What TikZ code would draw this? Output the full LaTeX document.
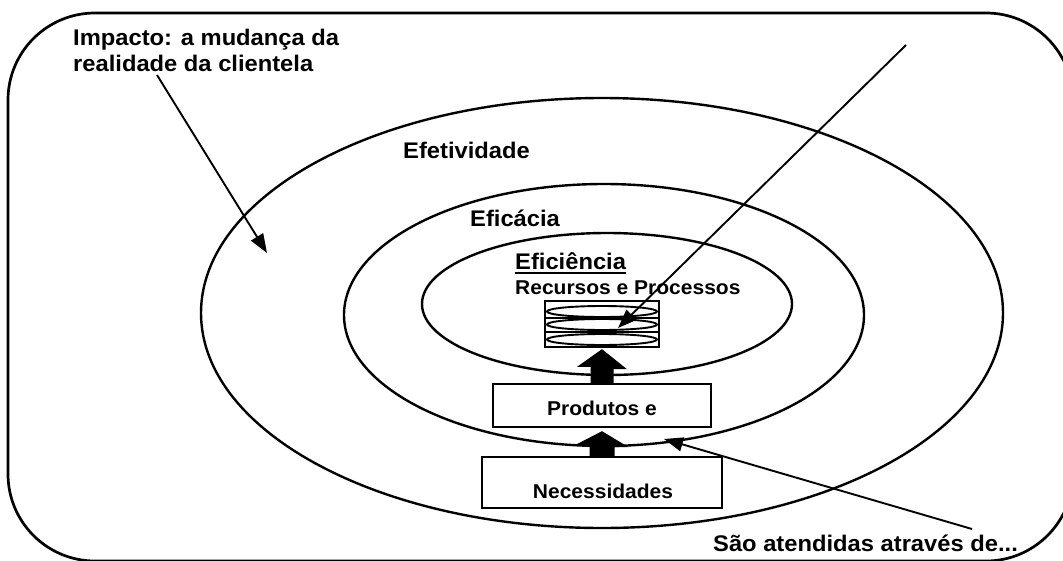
\documentclass[tikz,border=0pt]{standalone}
\usepackage{fontspec}
\setmainfont[FakeStretch=1.05]{Liberation Sans}
\usetikzlibrary{shapes.geometric,arrows.meta,calc}
\begin{document}
\begin{tikzpicture}[x=1pt,y=-1pt,
  lbl/.style={font=\bfseries\fontsize{22.6}{26}\selectfont, anchor=base west, inner sep=0pt},
  smalllbl/.style={font=\bfseries\fontsize{20}{24}\selectfont, inner sep=0pt},
  ring/.style={draw, ellipse, line width=2.4pt, inner sep=0pt},
  thinarrow/.style={line width=1.9pt, -{Triangle[length=19pt,width=14pt]}},
  boxstyle/.style={draw, line width=2.3pt, fill=white, inner sep=0pt},
  pill/.style={draw, line width=1.9pt, ellipse, inner sep=0pt, minimum width=110pt, minimum height=11pt},
  bigarrow/.style={fill=black}]
\useasboundingbox (0,0) rectangle (1063,560);
\clip (0,0) rectangle (1063,560);
% outer frame
\draw[line width=2.7pt, rounded corners=87pt] (8,13) rectangle (1073,561);
% rings
\node[ring, minimum width=802pt, minimum height=430pt] (efet) at (602,313) {};
\node[ring, minimum width=520pt, minimum height=262pt] (efic) at (604,315) {};
\node[ring, minimum width=370pt, minimum height=142pt] (eficien) at (607,304) {};
% labels
\node[lbl] (impacto) at (73,45) {Impacto: a mudança da};
\node[lbl] (impacto2) at (73,71) {realidade da clientela};
\node[lbl] (lefet) at (403,158) {Efetividade};
\node[lbl] (lefic) at (470,226) {Eficácia};
\node[lbl] (lefin) at (515,269) {Eficiência};
\draw[line width=2.6pt] ([yshift=-4pt]lefin.base west) -- ([yshift=-4pt]lefin.base east);
\node[lbl, font=\bfseries\fontsize{20}{24}\selectfont] (lrec) at (515,294) {Recursos e Processos};
% stack of resources
\node[boxstyle, minimum width=114pt, minimum height=46pt] (stack) at (602,324) {};
\draw[line width=1.9pt] (545,318) -- (659,318);
\draw[line width=1.9pt] (545,332) -- (659,332);
\node[pill] (p1) at (602,311.5) {};
\node[pill] (p2) at (602,324.5) {};
\node[pill] (p3) at (602,339.5) {};
% boxes
\node[boxstyle, minimum width=218pt, minimum height=43pt] (prod) at (602,405.5) {};
\node[smalllbl, anchor=base] (lprod) at (602,415) {Produtos e};
\node[boxstyle, minimum width=240pt, minimum height=51pt] (nec) at (602,482.5) {};
\node[smalllbl, anchor=base] (lnec) at (603,498) {Necessidades};
% big arrows
\fill[bigarrow] ([xshift=-11.5pt]prod.north) -- ++(0,-16) -- ++(-13.5,0) -- ([yshift=-1pt]stack.south) -- ++(25,20) -- ++(-13.5,0) -- ([xshift=11.5pt]prod.north) -- cycle;
\fill[bigarrow] ([xshift=-12.5pt]nec.north) -- ++(0,-11) -- ++(-14,0) -- ([yshift=-3pt]prod.south) -- ++(26.5,16) -- ++(-14,0) -- ([xshift=12.5pt]nec.north) -- cycle;
% bottom label
\node[lbl] (lsao) at (713,551) {São atendidas através de...};
% thin arrows
\coordinate (t1) at (157,75);
\coordinate (h1) at (267,253);
\coordinate (t2) at (906,45);
\coordinate (h2) at (618,328);
\coordinate (t3) at (972,529);
\coordinate (h3) at (664,439);
\draw[thinarrow] (t1) -- (h1);
\draw[thinarrow] (t2) -- (h2);
\draw[thinarrow] (t3) -- (h3);
\end{tikzpicture}
\end{document}
